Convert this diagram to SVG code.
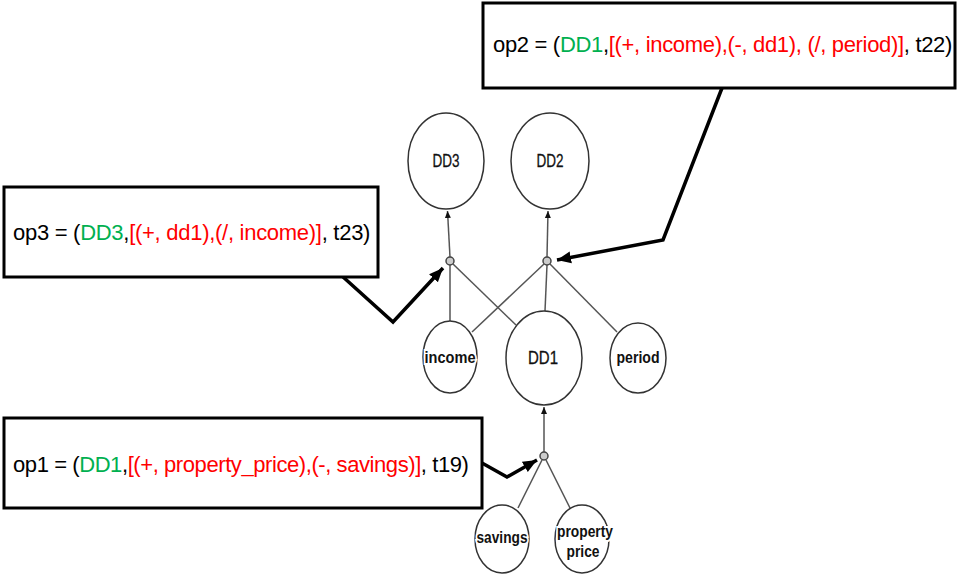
<svg xmlns="http://www.w3.org/2000/svg" width="960" height="576" viewBox="0 0 960 576">
<defs>
<marker id="thin" markerUnits="userSpaceOnUse" markerWidth="8" markerHeight="8" refX="7" refY="4" orient="auto"><path d="M0,1 L7,4 L0,7 Z" fill="#111"/></marker>
<marker id="thick" markerUnits="userSpaceOnUse" markerWidth="16" markerHeight="14" refX="14" refY="7" orient="auto"><path d="M0,1 L14,7 L0,13 Z" fill="#000"/></marker>
<style>
.node{fill:#fff;stroke:#333;stroke-width:1.5}
.lbl{font-family:"Liberation Sans Narrow","Liberation Sans",Arial,sans-serif;font-size:17px;fill:#111;text-anchor:middle}
.dd{font-size:18px;fill:#111;stroke:#111;stroke-width:0.3}
.b{font-weight:bold;paint-order:stroke;stroke:#fff;stroke-width:4px}
.edge{stroke:#555;stroke-width:1.5;fill:none}
.dot{fill:#ccc;stroke:#444;stroke-width:1.5}
.box{fill:#fff;stroke:#000;stroke-width:3}
.op{font-family:"Liberation Sans",Arial,sans-serif;font-size:22px;fill:#000}
.g{fill:#00b050}
.r{fill:#ff0000}
.call{stroke:#000;stroke-width:3.5;fill:none;stroke-linejoin:miter}
</style>
</defs>

<g id="connectors">
<line class="edge" x1="450" y1="257" x2="447.5" y2="211" marker-end="url(#thin)"/>
<line class="edge" x1="547" y1="257" x2="548" y2="211" marker-end="url(#thin)"/>
<line class="edge" x1="544" y1="452" x2="544" y2="407" marker-end="url(#thin)"/>
<line class="edge" x1="450" y1="265" x2="450" y2="322"/>
<line class="edge" x1="453" y1="264" x2="516" y2="325"/>
<line class="edge" x1="544" y1="264" x2="472" y2="332"/>
<line class="edge" x1="547" y1="265" x2="545" y2="311"/>
<line class="edge" x1="550" y1="264" x2="617" y2="332"/>
<line class="edge" x1="542" y1="460" x2="518" y2="508"/>
<line class="edge" x1="546" y1="460" x2="570" y2="508"/>
<polyline class="call" points="722,88 663,240 557,260" marker-end="url(#thick)"/>
<polyline class="call" points="342,276 393,322 443,268" marker-end="url(#thick)"/>
<polyline class="call" points="482,463 507,477 537,460" marker-end="url(#thick)"/>
</g>

<g id="junction-dd3"><circle class="dot" cx="450" cy="261" r="4"/></g>
<g id="junction-dd2"><circle class="dot" cx="547" cy="261" r="4"/></g>
<g id="junction-dd1"><circle class="dot" cx="544" cy="456" r="4"/></g>

<g id="DD3"><ellipse class="node" cx="446" cy="161" rx="38" ry="48"/><text class="lbl dd" x="446" y="167" textLength="27" lengthAdjust="spacingAndGlyphs">DD3</text></g>
<g id="DD2"><ellipse class="node" cx="550" cy="161" rx="39" ry="48"/><text class="lbl dd" x="550" y="167" textLength="27" lengthAdjust="spacingAndGlyphs">DD2</text></g>
<g id="DD1"><ellipse class="node" cx="544" cy="358" rx="38" ry="47"/><text class="lbl dd" x="543" y="364" textLength="30" lengthAdjust="spacingAndGlyphs">DD1</text></g>
<g id="income"><ellipse class="node" cx="450" cy="357" rx="27" ry="36"/><text class="lbl b" x="450" y="363" textLength="51" lengthAdjust="spacingAndGlyphs">income</text></g>
<g id="period"><ellipse class="node" cx="638" cy="358" rx="28" ry="35"/><text class="lbl b" x="638" y="363" textLength="43" lengthAdjust="spacingAndGlyphs">period</text></g>
<g id="savings"><ellipse class="node" cx="502" cy="539" rx="27" ry="34"/><text class="lbl b" x="502" y="543" textLength="51" lengthAdjust="spacingAndGlyphs">savings</text></g>
<g id="property_price"><ellipse class="node" cx="582" cy="539" rx="27" ry="34"/><text class="lbl b" x="585" y="537" textLength="56" lengthAdjust="spacingAndGlyphs">property</text><text class="lbl b" x="583" y="557" textLength="33" lengthAdjust="spacingAndGlyphs">price</text></g>

<g id="op2"><rect class="box" x="483" y="3" width="472" height="85"/>
<text class="op" x="493" y="52" letter-spacing="-0.32">op2 = (<tspan class="g">DD1</tspan>,<tspan class="r">[(+, income),(-, dd1), (/, period)]</tspan>, t22)</text></g>

<g id="op3"><rect class="box" x="4" y="187" width="374" height="90"/>
<text class="op" x="13" y="240" letter-spacing="-0.28">op3 = (<tspan class="g">DD3</tspan>,<tspan class="r">[(+, dd1),(/, income)]</tspan>, t23)</text></g>

<g id="op1"><rect class="box" x="4" y="418" width="478" height="90"/>
<text class="op" x="13" y="472" letter-spacing="-0.42">op1 = (<tspan class="g">DD1</tspan>,<tspan class="r">[(+, property_price),(-, savings)]</tspan>, t19)</text></g>
</svg>
